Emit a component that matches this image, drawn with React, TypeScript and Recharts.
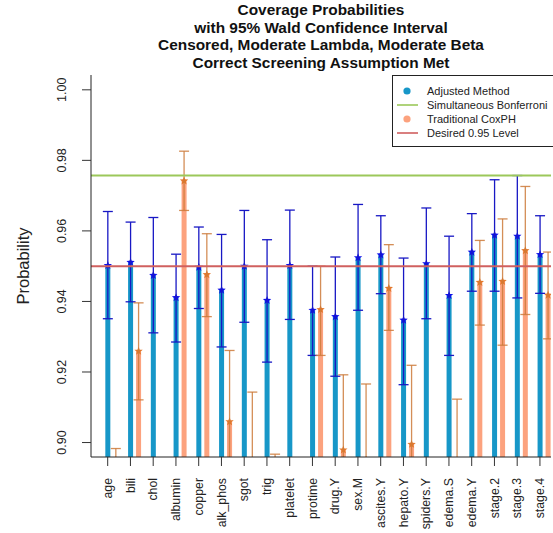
import React from 'react';
import { ComposedChart, Bar, XAxis, YAxis, ErrorBar, ReferenceLine, Legend } from 'recharts';

// Model terms on the x axis
const terms = [
  'age', 'bili', 'chol', 'albumin', 'copper', 'alk_phos', 'sgot', 'trig', 'platelet', 'protime',
  'drug.Y', 'sex.M', 'ascites.Y', 'hepato.Y', 'spiders.Y', 'edema.S', 'edema.Y', 'stage.2', 'stage.3', 'stage.4',
];

// Adjusted method: coverage estimate and Wald interval
const adjCoverage = [0.9502, 0.9511, 0.9474, 0.9411, 0.9497, 0.9432, 0.95, 0.9403, 0.9502, 0.9375, 0.9357, 0.9524, 0.9532, 0.9347, 0.9507, 0.9417, 0.954, 0.9588, 0.9585, 0.9533];
const adjLower = [0.9351, 0.9399, 0.9311, 0.9285, 0.938, 0.9271, 0.9341, 0.9228, 0.9349, 0.9247, 0.9188, 0.9375, 0.9422, 0.9164, 0.9351, 0.9247, 0.9429, 0.9429, 0.941, 0.9423];
const adjUpper = [0.9655, 0.9625, 0.9638, 0.9534, 0.9611, 0.959, 0.9658, 0.9575, 0.9659, 0.95, 0.9526, 0.9675, 0.9643, 0.9523, 0.9665, 0.9585, 0.9649, 0.9745, 0.9757, 0.9643];

// Traditional CoxPH: coverage estimate and Wald interval
const coxCoverage = [0.876, 0.9259, 0.872, 0.9742, 0.9476, 0.9059, 0.893, 0.874, 0.87, 0.9377, 0.8979, 0.895, 0.9437, 0.8995, 0.872, 0.891, 0.9454, 0.9457, 0.9544, 0.9418];
const coxLower = [0.854, 0.9121, 0.85, 0.9658, 0.9357, 0.8857, 0.872, 0.852, 0.848, 0.9247, 0.8766, 0.8734, 0.9318, 0.8771, 0.85, 0.8697, 0.9333, 0.9276, 0.9363, 0.9294];
const coxUpper = [0.8983, 0.9396, 0.894, 0.9826, 0.9592, 0.9261, 0.9143, 0.8967, 0.892, 0.95, 0.9192, 0.9166, 0.9561, 0.9219, 0.894, 0.9123, 0.9573, 0.9634, 0.9726, 0.954];

// Reference levels
const bonferroniLevel = 0.9757;
const desiredLevel = 0.95;

const yTicks = [0.9, 0.92, 0.94, 0.96, 0.98, 1.0];

const rows = terms.map((term, i) => ({
  term,
  pos: i + 1,
  adj: adjCoverage[i],
  adjErr: [adjCoverage[i] - adjLower[i], adjUpper[i] - adjCoverage[i]],
  cox: coxCoverage[i],
  coxErr: [coxCoverage[i] - coxLower[i], coxUpper[i] - coxCoverage[i]],
}));

const FONT = '"Liberation Sans", Arial, Helvetica, sans-serif';
const BLUE = '#1797C8';
const SALMON = '#FCA27E';
const BLUE_STAR = '#1010E8';
const ORANGE_STAR = '#E2782C';
const BLUE_ERR = '#1818C4';
const ORANGE_ERR = '#CC7A3A';
const GREEN = '#9CC85A';
const RED = '#D0605F';

const BAR_W = 5;
const BAR_GAP = 3;
const HALF_STEP = (BAR_W + BAR_GAP) / 2;

// Interval whiskers stay inside the plotting region, like the bars
const ADJ_ID = 'adjBars';
const COX_ID = 'coxBars';
const clipCss = `
.adj-err, .adj-err line { clip-path: url(#clipPath-${ADJ_ID}); }
.cox-err, .cox-err line { clip-path: url(#clipPath-${COX_ID}); }
`;

const starPoints = (cx: number, cy: number, R: number, r: number) => {
  const pts: string[] = [];
  for (let k = 0; k < 10; k++) {
    const ang = -Math.PI / 2 + (k * Math.PI) / 5;
    const rad = k % 2 === 0 ? R : r;
    pts.push(`${(cx + rad * Math.cos(ang)).toFixed(2)},${(cy + rad * Math.sin(ang)).toFixed(2)}`);
  }
  return pts.join(' ');
};

// Bar with a star marker at the estimate
const barWithStar = (fill: string, starFill: string) => (props: any) => {
  const { x, y, width, height } = props;
  if (x == null || y == null) return <g />;
  const top = Math.min(y, y + height);
  const h = Math.abs(height);
  return (
    <g>
      <rect x={x} y={top} width={width} height={h} fill={fill} />
      <polygon points={starPoints(x + width / 2, y, 4.4, 1.9)} fill={starFill} />
    </g>
  );
};

// Term labels sit under the first bar of each pair
const TermTick = (props: any) => {
  const { x, y, payload } = props;
  const bx = x - HALF_STEP;
  const label = terms[Math.round(payload.value) - 1] ?? '';
  return (
    <g>
      <line x1={bx} x2={bx} y1={y} y2={y + 9} stroke="#333" strokeWidth={1} />
      <text
        x={bx}
        y={y + 21}
        transform={`rotate(-90 ${bx} ${y + 21})`}
        textAnchor="end"
        dy="0.35em"
        fontSize={12.3}
        fontFamily={FONT}
        fill="#222"
      >
        {label}
      </text>
    </g>
  );
};

const ProbTick = (props: any) => {
  const { x, y, payload } = props;
  const tx = x - 20;
  return (
    <text
      x={tx}
      y={y}
      transform={`rotate(-90 ${tx} ${y})`}
      textAnchor="middle"
      dy="0.35em"
      fontSize={12.5}
      fontFamily={FONT}
      fill="#222"
    >
      {payload.value.toFixed(2)}
    </text>
  );
};

const legendItems = [
  { label: 'Adjusted Method', kind: 'dot', color: BLUE },
  { label: 'Simultaneous Bonferroni', kind: 'line', color: GREEN },
  { label: 'Traditional CoxPH', kind: 'dot', color: SALMON },
  { label: 'Desired 0.95 Level', kind: 'line', color: RED },
];

const LegendBox = () => (
  <div
    style={{
      width: 170,
      height: 72,
      boxSizing: 'border-box',
      border: '1px solid #222',
      background: '#fff',
      paddingTop: 8,
      fontFamily: FONT,
      fontSize: 11,
      color: '#222',
    }}
  >
    {legendItems.map((it) => (
      <div key={it.label} style={{ height: 14, display: 'flex', alignItems: 'center' }}>
        <svg width={34} height={14} style={{ flex: 'none' }}>
          {it.kind === 'dot' ? (
            <circle cx={14} cy={7} r={3.6} fill={it.color} />
          ) : (
            <line x1={4} x2={25} y1={7} y2={7} stroke={it.color} strokeWidth={1.6} />
          )}
        </svg>
        <span style={{ whiteSpace: 'nowrap', lineHeight: '14px' }}>{it.label}</span>
      </div>
    ))}
  </div>
);

const titleLines = [
  'Coverage Probabilities',
  'with 95% Wald Confidence Interval',
  'Censored, Moderate Lambda, Moderate Beta',
  'Correct Screening Assumption Met',
];

export default function App() {
  return (
    <div style={{ position: 'absolute', left: 0, top: 0, width: 553, height: 533, background: '#fff' }}>
      <style>{clipCss}</style>
      <svg width={553} height={75} style={{ position: 'absolute', left: 0, top: 0 }}>
        {titleLines.map((t, i) => (
          <text
            key={t}
            x={321}
            y={15 + i * 17.7}
            textAnchor="middle"
            fontFamily={FONT}
            fontWeight="bold"
            fontSize={15.4}
            fill="#111"
          >
            {t}
          </text>
        ))}
      </svg>
      <ComposedChart
        width={553}
        height={533}
        data={rows}
        margin={{ top: 75, right: 2, bottom: 0, left: 0 }}
        barSize={BAR_W}
        barGap={BAR_GAP}
      >
        <XAxis
          dataKey="pos"
          type="number"
          domain={[0.09, 20.31]}
          ticks={terms.map((_, i) => i + 1)}
          interval={0}
          allowDataOverflow
          height={76}
          tickSize={0}
          tickMargin={0}
          tickLine={false}
          axisLine={{ stroke: '#222', strokeWidth: 1 }}
          tick={<TermTick />}
        />
        <XAxis
          xAxisId="frameTop"
          orientation="top"
          dataKey="pos"
          type="number"
          domain={[0.09, 20.31]}
          allowDataOverflow
          height={0}
          tick={false}
          tickLine={false}
          axisLine={{ stroke: '#222', strokeWidth: 1 }}
        />
        <YAxis
          type="number"
          domain={[0.8959, 1.0042]}
          ticks={yTicks}
          allowDataOverflow
          width={91}
          tickSize={9}
          tickMargin={0}
          tickLine={{ stroke: '#333', strokeWidth: 1 }}
          axisLine={{ stroke: '#222', strokeWidth: 1 }}
          tick={<ProbTick />}
          label={{
            value: 'Probability',
            angle: -90,
            position: 'insideLeft',
            offset: 23,
            style: { fontFamily: FONT, fontSize: 16.5, fill: '#222', textAnchor: 'middle' },
          }}
        />
        <YAxis
          yAxisId="frameRight"
          orientation="right"
          type="number"
          domain={[0.8959, 1.0042]}
          allowDataOverflow
          width={0}
          tick={false}
          tickLine={false}
          axisLine={{ stroke: '#222', strokeWidth: 1 }}
        />
        <Legend
          layout="horizontal"
          verticalAlign="middle"
          align="center"
          wrapperStyle={{ left: 392, top: 75, width: 170, height: 72 }}
          content={() => <LegendBox />}
        />
        <Bar id={ADJ_ID} dataKey="adj" fill={BLUE} isAnimationActive={false} shape={barWithStar(BLUE, BLUE_STAR)}>
          <ErrorBar
            className="adj-err"
            clipPath={`url(#clipPath-${ADJ_ID})`}
            dataKey="adjErr"
            direction="y"
            width={5}
            stroke={BLUE_ERR}
            strokeWidth={1.3}
          />
        </Bar>
        <Bar id={COX_ID} dataKey="cox" fill={SALMON} isAnimationActive={false} shape={barWithStar(SALMON, ORANGE_STAR)}>
          <ErrorBar
            className="cox-err"
            clipPath={`url(#clipPath-${COX_ID})`}
            dataKey="coxErr"
            direction="y"
            width={5}
            stroke={ORANGE_ERR}
            strokeWidth={1.3}
            strokeOpacity={0.85}
          />
        </Bar>
        <ReferenceLine y={bonferroniLevel} stroke={GREEN} strokeWidth={2} />
        <ReferenceLine y={desiredLevel} stroke={RED} strokeWidth={2} />
      </ComposedChart>
    </div>
  );
}
